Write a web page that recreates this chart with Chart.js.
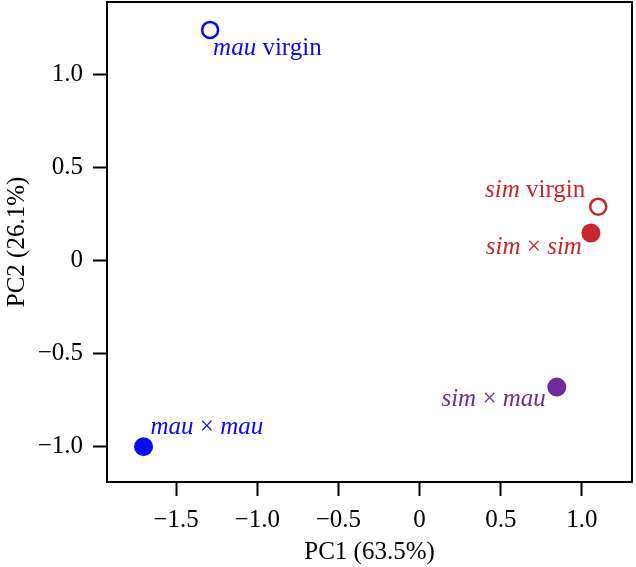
<!DOCTYPE html>
<html>
<head>
<meta charset="utf-8">
<script src="https://cdn.jsdelivr.net/npm/chart.js@4/dist/chart.umd.min.js"></script>
<style>
  html, body { margin: 0; padding: 0; background: #fff; }
  #wrap { width: 636px; height: 567px; }
</style>
</head>
<body>
<div id="wrap"><canvas id="pca"></canvas></div>
<script>
// groups, PC scores
const groups = ['mau virgin', 'mau × mau', 'sim virgin', 'sim × sim', 'sim × mau'];
const pc1 = [-1.29, -1.70, 1.10, 1.055, 0.845];
const pc2 = [1.24, -1.00, 0.29, 0.148, -0.68];
const xTicks = [-1.5, -1.0, -0.5, 0, 0.5, 1.0];
const yTicks = [-1.0, -0.5, 0, 0.5, 1.0];

// styling per group (not data)
const colors = ['#0a0af5', '#0a0af5', '#c9252c', '#c9252c', '#6b2d9b'];
const filled = [false, true, false, true, true];
// label text pieces: [text, italic]
const labelParts = [
    [['mau', true], [' virgin', false]],
    [['mau', true], [' × ', false], ['mau', true]],
    [['sim', true], [' virgin', false]],
    [['sim', true], [' × ', false], ['sim', true]],
    [['sim', true], [' × ', false], ['mau', true]]
];
// label anchor relative to the point: dx, dy (baseline), align
const labelPos = [
    [3, 25, 'left'],
    [7, -13, 'left'],
    [-13, -10, 'right'],
    [-9, 21, 'right'],
    [-11, 19, 'right']
];

const serif = 'Liberation Serif';
const fs = 25;

const fmt = v => {
    if (v === 0) return '0';
    return (v < 0 ? '\u2212' : '') + Math.abs(v).toFixed(1);
};

const frameAndLabels = {
    id: 'frameAndLabels',
    afterDatasetsDraw(chart) {
        const ctx = chart.ctx;
        const a = chart.chartArea;
        ctx.save();
        ctx.strokeStyle = '#000';
        ctx.lineWidth = 2;
        ctx.strokeRect(a.left, a.top, a.right - a.left, a.bottom - a.top);

        const xs = chart.scales.x, ys = chart.scales.y;
        ctx.textBaseline = 'alphabetic';
        groups.forEach((g, i) => {
            const px = xs.getPixelForValue(pc1[i]);
            const py = ys.getPixelForValue(pc2[i]);
            const parts = labelParts[i];
            let widths = parts.map(p => {
                ctx.font = (p[1] ? 'italic ' : '') + fs + 'px "' + serif + '"';
                return ctx.measureText(p[0]).width;
            });
            const total = widths.reduce((s, w) => s + w, 0);
            let x = px + labelPos[i][0];
            if (labelPos[i][2] === 'right') x -= total;
            const y = py + labelPos[i][1];
            ctx.fillStyle = colors[i];
            ctx.textAlign = 'left';
            parts.forEach((p, k) => {
                ctx.font = (p[1] ? 'italic ' : '') + fs + 'px "' + serif + '"';
                ctx.fillText(p[0], x, y);
                x += widths[k];
            });
        });
        ctx.restore();
    }
};

function draw() {
    new Chart(document.getElementById('pca'), {
        type: 'scatter',
        data: {
            datasets: [{
                data: groups.map((g, i) => ({ x: pc1[i], y: pc2[i] })),
                backgroundColor: colors.map((c, i) => filled[i] ? c : '#fff'),
                borderColor: colors,
                borderWidth: filled.map(f => f ? 0 : 2.5),
                pointRadius: filled.map(f => f ? 9.5 : 8),
                pointHoverRadius: filled.map(f => f ? 9.5 : 8)
            }]
        },
        options: {
            responsive: true,
            maintainAspectRatio: false,
            animation: false,
            events: [],
            layout: { autoPadding: false, padding: { top: 2, right: 4, left: 0, bottom: 0 } },
            plugins: {
                legend: { display: false },
                tooltip: { enabled: false }
            },
            scales: {
                x: {
                    type: 'linear',
                    min: -1.925,
                    max: 1.308,
                    afterBuildTicks: s => { s.ticks = xTicks.map(v => ({ value: v })); },
                    afterFit: s => { s.height = 85; s.paddingLeft = 0; s.paddingRight = 0; },
                    ticks: {
                        callback: v => fmt(v),
                        color: '#000',
                        font: { family: serif, size: fs },
                        padding: 9,
                        maxRotation: 0
                    },
                    grid: {
                        drawOnChartArea: false,
                        drawTicks: true,
                        tickLength: 14,
                        tickWidth: 2,
                        tickColor: '#000'
                    },
                    border: { display: true, color: '#000', width: 2 },
                    title: {
                        display: true,
                        text: 'PC1 (63.5%)',
                        color: '#000',
                        font: { family: serif, size: fs },
                        padding: { top: 4, bottom: 0 }
                    }
                },
                y: {
                    type: 'linear',
                    min: -1.19,
                    max: 1.39,
                    afterBuildTicks: s => { s.ticks = yTicks.map(v => ({ value: v })); },
                    afterFit: s => { s.width = 107; s.paddingTop = 0; s.paddingBottom = 0; },
                    ticks: {
                        callback: v => fmt(v),
                        color: '#000',
                        font: { family: serif, size: fs },
                        padding: 10
                    },
                    grid: {
                        drawOnChartArea: false,
                        drawTicks: true,
                        tickLength: 14,
                        tickWidth: 2,
                        tickColor: '#000'
                    },
                    border: { display: true, color: '#000', width: 2 },
                    title: {
                        display: true,
                        text: 'PC2 (26.1%)',
                        color: '#000',
                        font: { family: serif, size: fs },
                        padding: { top: 2, bottom: 0 }
                    }
                }
            }
        },
        plugins: [frameAndLabels]
    });
}

Promise.all([
    document.fonts.load(fs + 'px "' + serif + '"'),
    document.fonts.load('italic ' + fs + 'px "' + serif + '"')
]).then(draw, draw);
</script>
</body>
</html>
